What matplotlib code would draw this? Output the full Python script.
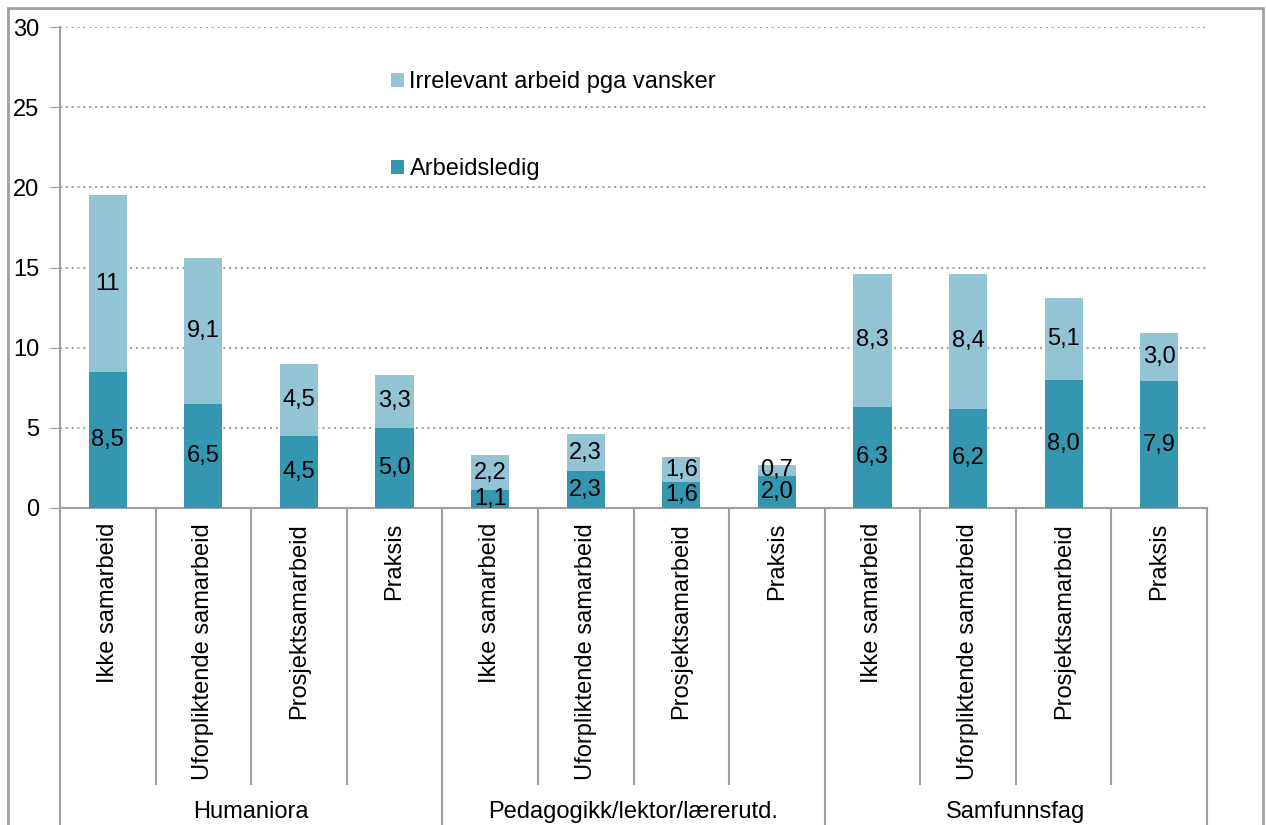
import matplotlib
matplotlib.use("Agg")
import matplotlib.pyplot as plt
from matplotlib.patches import Rectangle

# Data
groups = ["Humaniora", "Pedagogikk/lektor/lærerutd.", "Samfunnsfag"]
categories = ["Ikke samarbeid", "Uforpliktende samarbeid", "Prosjektsamarbeid", "Praksis"]
arbeidsledig = [8.5, 6.5, 4.5, 5.0,
                1.1, 2.3, 1.6, 2.0,
                6.3, 6.2, 8.0, 7.9]
irrelevant = [11.0, 9.1, 4.5, 3.3,
              2.2, 2.3, 1.6, 0.7,
              8.3, 8.4, 5.1, 3.0]
yticks = [0, 5, 10, 15, 20, 25, 30]

DARK = "#3596b0"
LIGHT = "#93c4d5"
GREY = "#a0a0a0"
FONT = "Liberation Sans"
FS = 17

plt.rcParams['font.family'] = [FONT, 'DejaVu Sans']


def fmt(v):
    # Excel-like labels with comma decimal
    if v >= 10:
        return f"{v:.0f}"
    return f"{v:.1f}".replace(".", ",")


fig = plt.figure(figsize=(12.66, 8.25), dpi=100)
ax = fig.add_axes([60 / 1266, 1 - 508 / 825, (1207 - 60) / 1266, (508 - 27) / 825])

n = len(arbeidsledig)
x = list(range(n))
b1 = ax.bar(x, arbeidsledig, width=0.4, color=DARK, label="Arbeidsledig", zorder=3)
b2 = ax.bar(x, irrelevant, width=0.4, bottom=arbeidsledig, color=LIGHT,
            label="Irrelevant arbeid pga vansker", zorder=3)

for i in range(n):
    ax.text(x[i], arbeidsledig[i] / 2, fmt(arbeidsledig[i]), ha="center", va="center",
            fontsize=FS, zorder=4)
    ax.text(x[i], arbeidsledig[i] + irrelevant[i] / 2, fmt(irrelevant[i]), ha="center",
            va="center", fontsize=FS, zorder=4)

ax.set_xlim(-0.5, n - 0.5)
ax.set_ylim(0, 30)
ax.set_yticks(yticks)
ax.set_yticklabels([str(t) for t in yticks], fontsize=FS)
ax.tick_params(axis="y", direction="out", length=7, color=GREY, pad=8)
ax.set_xticks([])
ax.yaxis.grid(True, linestyle=(0, (1, 2)), color="#999999", linewidth=1.4, zorder=0)

for s in ["top", "right"]:
    ax.spines[s].set_visible(False)
for s in ["left", "bottom"]:
    ax.spines[s].set_color(GREY)
    ax.spines[s].set_linewidth(1.5)

# Two-level category axis below the plot
tr = ax.get_xaxis_transform()
ncat = len(categories)
for i in range(n):
    ax.text(x[i], -0.031, categories[i % ncat], rotation=90, ha="center", va="top",
            fontsize=FS, transform=tr)
for k in range(n + 1):
    xb = k - 0.5
    y_end = -0.75 if k % ncat == 0 else -0.574
    ax.plot([xb, xb], [0, y_end], color=GREY, linewidth=1.5, transform=tr, clip_on=False)
for g, name in enumerate(groups):
    xc = g * ncat + (ncat - 1) / 2
    ax.text(xc, -0.632, name, ha="center", va="center", fontsize=FS, transform=tr)

# Legend
ax.legend(handles=[b2, b1], loc="upper left", bbox_to_anchor=(0.28, 0.928),
          frameon=False, fontsize=FS, handlelength=0.55, handleheight=0.55,
          handletextpad=0.25, labelspacing=2.75, borderaxespad=0)

# Outer chart frame
fig.add_artist(Rectangle((8 / 1266, -0.1), (1263 - 8) / 1266, 1.1 - 8 / 825,
                         transform=fig.transFigure, fill=False, edgecolor=GREY,
                         linewidth=2))

fig.savefig("out.png", dpi=100)
